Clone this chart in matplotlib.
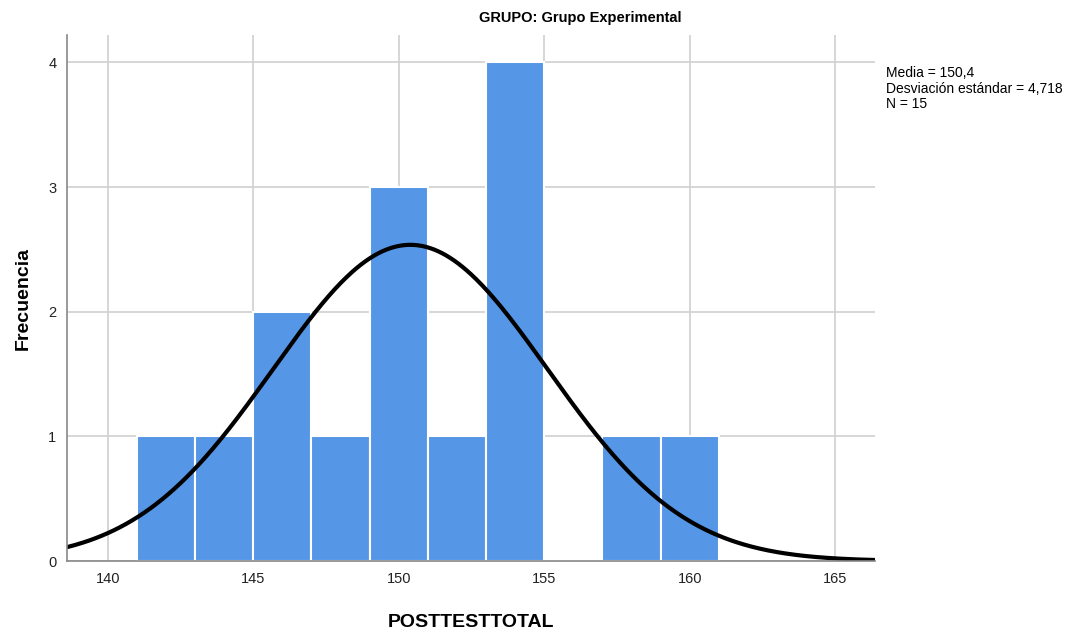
import numpy as np
import matplotlib
matplotlib.use('Agg')
import matplotlib.pyplot as plt

plt.rcParams['font.family'] = ['Liberation Sans', 'DejaVu Sans']

# histogram bins (width 2) and counts
bin_edges = [141, 143, 145, 147, 149, 151, 153, 155, 157, 159, 161]
counts = [1, 1, 2, 1, 3, 1, 4, 0, 1, 1]
media = 150.4
desv = 4.718
n = 15
xticks = [140, 145, 150, 155, 160, 165]
yticks = [0, 1, 2, 3, 4]

fig = plt.figure(figsize=(10.85, 6.32), dpi=100)
ax = fig.add_axes([0.0622, 0.1123, 0.7443, 0.8323])

ax.set_axisbelow(True)
ax.grid(True, color='#d0d0d0', linewidth=1.2)
lefts = bin_edges[:-1]
widths = np.diff(bin_edges)
ax.bar(lefts, counts, width=widths, align='edge', color='#5596e6',
       edgecolor='white', linewidth=1.5)

x = np.linspace(138.6, 166.4, 400)
binw = bin_edges[1] - bin_edges[0]
y = n * binw / (desv * np.sqrt(2 * np.pi)) * np.exp(-0.5 * ((x - media) / desv) ** 2)
ax.plot(x, y, color='black', linewidth=3)

ax.set_xlim(138.62, 166.37)
ax.set_ylim(0, 4.22)
ax.set_xticks(xticks)
ax.set_yticks(yticks)
for s in ['top', 'right']:
    ax.spines[s].set_visible(False)
for s in ['left', 'bottom']:
    ax.spines[s].set_color('#888888')
    ax.spines[s].set_linewidth(1.2)
ax.tick_params(length=0, labelsize=10.5, pad=8, colors='#222222')

ax.set_xlabel('POSTTESTTOTAL', fontsize=14, fontweight='bold', labelpad=20)
ax.set_ylabel('Frecuencia', fontsize=14, fontweight='bold', labelpad=12)

fig.text(580 / 1085, 1 - 18 / 632, 'GRUPO: Grupo Experimental', ha='center',
         va='center', fontsize=10.5, fontweight='bold')
fig.text(886 / 1085, 1 - 66 / 632,
         'Media = 150,4\nDesviación estándar = 4,718\nN = 15',
         ha='left', va='top', fontsize=10, linespacing=1.15)

fig.savefig('out.png', dpi=100)
